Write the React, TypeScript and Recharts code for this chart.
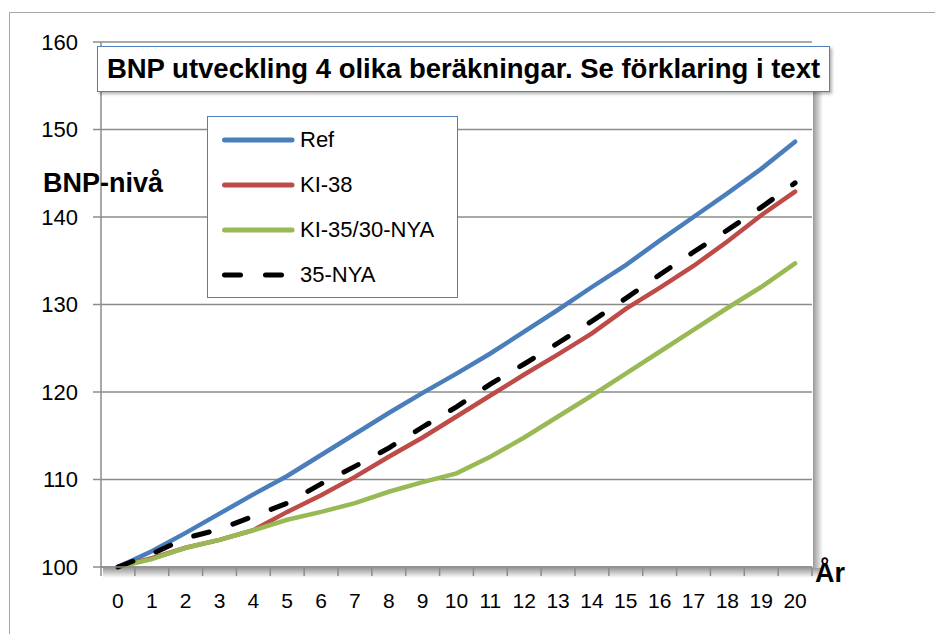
import { LineChart, Line, XAxis, YAxis, CartesianGrid } from 'recharts';

const years = [0, 1, 2, 3, 4, 5, 6, 7, 8, 9, 10, 11, 12, 13, 14, 15, 16, 17, 18, 19, 20];
const ref = [100, 101.8, 103.9, 106.1, 108.3, 110.4, 112.8, 115.2, 117.6, 119.9, 122.1, 124.4, 126.9, 129.4, 132.0, 134.5, 137.3, 140.0, 142.7, 145.5, 148.6];
const ki38 = [100, 101.0, 102.2, 103.1, 104.2, 106.3, 108.2, 110.3, 112.6, 114.8, 117.2, 119.6, 122.0, 124.3, 126.7, 129.5, 131.9, 134.4, 137.2, 140.2, 142.9];
const ki3530 = [100, 100.9, 102.2, 103.1, 104.2, 105.4, 106.3, 107.3, 108.6, 109.7, 110.7, 112.6, 114.8, 117.2, 119.6, 122.1, 124.6, 127.1, 129.6, 132.0, 134.7];
const nya35 = [100, 101.5, 103.3, 104.3, 105.8, 107.3, 109.5, 111.5, 113.6, 116.0, 118.3, 120.9, 123.2, 125.6, 128.1, 130.7, 133.4, 136.0, 138.5, 141.1, 143.9];
const yTicks = [100, 110, 120, 130, 140, 150, 160];

const data = years.map((year, i) => ({
  year,
  ref: ref[i],
  ki38: ki38[i],
  ki3530: ki3530[i],
  nya35: nya35[i],
}));

// tick marks sit between the categories (Excel style), labels in the middle
const boundaries = [-0.5, ...years.map((y) => y + 0.5)];

const SERIES = [
  { key: 'ref', name: 'Ref', color: '#4a7ebb', dash: undefined },
  { key: 'ki38', name: 'KI-38', color: '#be4b48', dash: undefined },
  { key: 'ki3530', name: 'KI-35/30-NYA', color: '#98b954', dash: undefined },
  { key: 'nya35', name: '35-NYA', color: '#000000', dash: '16 25' },
];

const FONT = '"Liberation Sans", Arial, sans-serif';
const GRID = '#8c8c8c';

const BetweenTick = (props: any) => {
  const { x, y, payload, width } = props;
  const label = payload.value + 0.5;
  if (label > years[years.length - 1]) return <g />;
  const half = (width ?? 711) / years.length / 2;
  return (
    <text x={x + half} y={y + 30} textAnchor="middle" fill="#000" fontSize={21} fontFamily={FONT}>
      {label}
    </text>
  );
};

const LegendBox = () => (
  <div
    style={{
      position: 'absolute',
      left: 207,
      top: 116,
      width: 249,
      height: 180,
      border: '1.5px solid #4f81bd',
      background: '#fff',
      display: 'flex',
      flexDirection: 'column',
      justifyContent: 'space-around',
      fontFamily: FONT,
      fontSize: 22,
      color: '#000',
    }}
  >
    {SERIES.map((s) => (
      <div key={s.key} style={{ display: 'flex', alignItems: 'center', height: 30 }}>
        <svg width={92} height={12} style={{ flex: 'none' }}>
          <line
            x1={16.5}
            y1={6}
            x2={s.dash ? 78 : 84}
            y2={6}
            stroke={s.color}
            strokeWidth={5}
            strokeLinecap="round"
            strokeDasharray={s.dash}
          />
        </svg>
        <span>{s.name}</span>
      </div>
    ))}
  </div>
);

const App = () => {
  return (
    <div style={{ position: 'absolute', left: 0, top: 0, width: 935, height: 634, overflow: 'hidden', background: '#fff' }}>
      <div
        style={{
          position: 'absolute',
          left: 9,
          top: 12,
          width: 940,
          height: 640,
          border: '1.5px solid #a6a6a6',
        }}
      />
      {/* soft shadow right of and below the plot area */}
      <svg width={935} height={634} style={{ position: 'absolute', left: 0, top: 0 }}>
        <defs>
          <linearGradient id="shB" x1="0" y1="0" x2="0" y2="1">
            <stop offset="0" stopColor="#000" stopOpacity={0.4} />
            <stop offset="1" stopColor="#000" stopOpacity={0} />
          </linearGradient>
          <linearGradient id="shR" x1="0" y1="0" x2="1" y2="0">
            <stop offset="0" stopColor="#000" stopOpacity={0.4} />
            <stop offset="1" stopColor="#000" stopOpacity={0} />
          </linearGradient>
        </defs>
        <rect x={103} y={568} width={718} height={10} fill="url(#shB)" />
        <rect x={813} y={46} width={10} height={522} fill="url(#shR)" />
      </svg>
      <div style={{ position: 'absolute', left: 0, top: 0 }}>
        <LineChart
          width={935}
          height={634}
          data={data}
          margin={{ top: 42, right: 123, bottom: 0, left: 0 }}
          style={{ fontFamily: FONT }}
        >
          <CartesianGrid vertical={false} stroke={GRID} strokeWidth={1.5} />
          <XAxis
            type="number"
            dataKey="year"
            domain={[-0.5, 20.5]}
            ticks={boundaries}
            interval={0}
            height={67}
            tickSize={9}
            tick={BetweenTick}
            tickLine={{ stroke: GRID, strokeWidth: 1.5 }}
            axisLine={{ stroke: GRID, strokeWidth: 1.5 }}
          />
          <YAxis
            type="number"
            domain={[100, 160]}
            ticks={yTicks}
            interval={0}
            width={101}
            tickSize={8}
            tickMargin={15}
            tickLine={{ stroke: GRID, strokeWidth: 1.5 }}
            axisLine={{ stroke: GRID, strokeWidth: 1.5 }}
            tick={{ fill: '#000', fontSize: 22 }}
          />
          {SERIES.map((s) => (
            <Line
              key={s.key}
              type="linear"
              dataKey={s.key}
              name={s.name}
              stroke={s.color}
              strokeWidth={s.dash ? 5 : 4.5}
              strokeDasharray={s.dash}
              strokeLinecap="round"
              dot={false}
              activeDot={false}
              isAnimationActive={false}
            />
          ))}
        </LineChart>
      </div>
      <div
        style={{
          position: 'absolute',
          left: 97,
          top: 46,
          width: 731,
          height: 44,
          border: '1.5px solid #4f81bd',
          background: '#fff',
          boxShadow: '2px 2px 3px rgba(0,0,0,0.3)',
          fontFamily: FONT,
          fontWeight: 'bold',
          fontSize: 27.5,
          lineHeight: '44px',
          textAlign: 'center',
          whiteSpace: 'nowrap',
          color: '#000',
        }}
      >
        BNP utveckling 4 olika beräkningar. Se förklaring i text
      </div>
      <LegendBox />
      <div
        style={{
          position: 'absolute',
          left: 43,
          top: 168,
          fontFamily: FONT,
          fontWeight: 'bold',
          fontSize: 27,
          color: '#000',
          whiteSpace: 'nowrap',
        }}
      >
        BNP-nivå
      </div>
      <div
        style={{
          position: 'absolute',
          left: 815,
          top: 558,
          fontFamily: FONT,
          fontWeight: 'bold',
          fontSize: 27,
          color: '#000',
        }}
      >
        År
      </div>
    </div>
  );
};

export default App;
